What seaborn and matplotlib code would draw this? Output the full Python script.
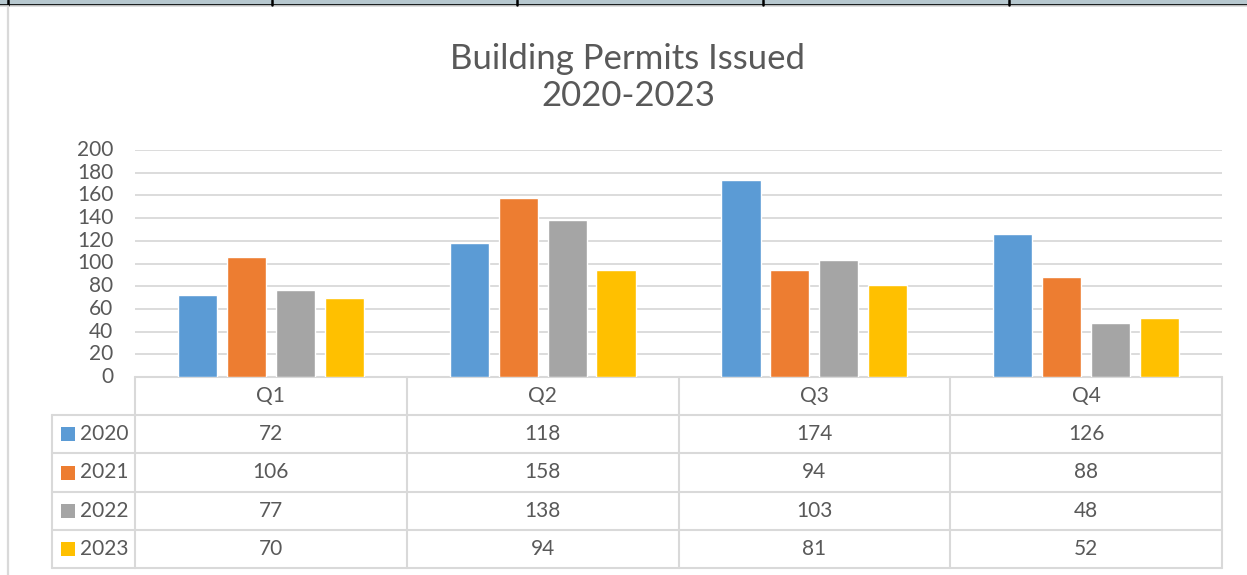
import numpy as np
import pandas as pd
import matplotlib
matplotlib.use("Agg")
import matplotlib.pyplot as plt
import matplotlib.transforms as mtransforms
from matplotlib.patches import Rectangle
import seaborn as sns

# datos
quarters = ["Q1", "Q2", "Q3", "Q4"]
years = ["2020", "2021", "2022", "2023"]
permits_2020 = [72, 118, 174, 126]
permits_2021 = [106, 158, 94, 88]
permits_2022 = [77, 138, 103, 48]
permits_2023 = [70, 94, 81, 52]
year_colors = ["#5b9bd5", "#ed7d31", "#a5a5a5", "#ffc000"]
y_ticks = list(range(0, 201, 20))

TEXT = "#595959"
LINE = "#d9d9d9"
W, H = 1247, 575


def build_frame():
    rows = []
    for year, vals in zip(years, [permits_2020, permits_2021, permits_2022, permits_2023]):
        for q, v in zip(quarters, vals):
            rows.append({"quarter": q, "year": year, "permits": v})
    return pd.DataFrame(rows)


def draw():
    df = build_frame()
    sns.set_style("white")
    plt.rcParams["font.family"] = ["Lato", "DejaVu Sans"]

    fig = plt.figure(figsize=(W / 100, H / 100), dpi=100)
    fig.patch.set_facecolor("white")

    # capa en pixeles para marco, tabla y titulo
    ov = fig.add_axes([0, 0, 1, 1], zorder=0)
    ov.set_xlim(0, W)
    ov.set_ylim(H, 0)
    ov.set_axis_off()

    # area de barras
    ax = fig.add_axes([135 / W, 1 - 377 / H, (1222 - 135) / W, (377 - 150) / H], zorder=1)
    ax.patch.set_alpha(0)
    sns.barplot(data=df, x="quarter", y="permits", hue="year", order=quarters,
                hue_order=years, palette=year_colors, width=0.72, gap=0.2,
                saturation=1, ax=ax, zorder=3)
    ax.legend_.remove()
    ax.set_xlim(-0.5, 3.5)
    ax.set_ylim(0, 200)
    ax.set_yticks(y_ticks)
    ax.set_yticklabels([str(t) for t in y_ticks])
    ax.set_xticks([])
    ax.set_xlabel("")
    ax.set_ylabel("")
    ax.tick_params(axis="y", length=0, pad=15.5, labelsize=15, labelcolor=TEXT)
    for t in ax.get_yticklabels():
        t.set_va("center")
    ax.yaxis.grid(True, color=LINE, linewidth=1.3, zorder=0)
    ax.set_axisbelow(True)
    sns.despine(ax=ax, left=True, bottom=True)

    # franja de la hoja de calculo arriba
    ov.add_patch(Rectangle((0, 0), W, 4.5, facecolor="#b7c8cf", edgecolor="none"))
    ov.plot([0, W], [4.5, 4.5], color="black", lw=1.2)
    ov.plot([0, W], [6, 6], color=LINE, lw=1.2)
    for x in [8, 272, 517, 763, 1009]:
        ov.plot([x, x], [0, 4.5], color="black", lw=1.8)
    ov.plot([8, 8], [6, H], color=LINE, lw=1.6)

    # titulo
    ov.text(628, 69, "Building Permits Issued", ha="center", va="baseline",
            fontsize=25, color=TEXT)
    ov.text(628, 106, "2020-2023", ha="center", va="baseline",
            fontsize=25, color=TEXT)

    # tabla de datos
    tr = mtransforms.blended_transform_factory(ax.transData, ov.transData)
    row_edges = [377, 415, 453, 492, 530, 568]
    tw = 1.5
    ax.plot([-0.5, 3.5], [row_edges[0]] * 2, transform=tr, color=LINE, lw=tw, clip_on=False)
    for y in row_edges[1:]:
        ov.plot([52, 135], [y, y], color=LINE, lw=tw)
        ax.plot([-0.5, 3.5], [y, y], transform=tr, color=LINE, lw=tw, clip_on=False)
    ov.plot([52, 52], [row_edges[1], row_edges[-1]], color=LINE, lw=tw)
    for i in range(len(quarters) + 1):
        ax.plot([i - 0.5, i - 0.5], [row_edges[0], row_edges[-1]], transform=tr,
                color=LINE, lw=tw, clip_on=False)

    centers = [(a + b) / 2 for a, b in zip(row_edges[:-1], row_edges[1:])]
    for i, q in enumerate(quarters):
        ax.text(i, centers[0], q, transform=tr, ha="center", va="center",
                fontsize=15, color=TEXT, clip_on=False)
    all_vals = [permits_2020, permits_2021, permits_2022, permits_2023]
    for r, (year, vals, col) in enumerate(zip(years, all_vals, year_colors)):
        cy = centers[r + 1]
        ov.add_patch(Rectangle((61, cy - 7), 14, 14, facecolor=col, edgecolor="none"))
        ov.text(80, cy, year, ha="left", va="center", fontsize=15, color=TEXT)
        for i, v in enumerate(vals):
            ax.text(i, cy, str(v), transform=tr, ha="center", va="center",
                    fontsize=15, color=TEXT, clip_on=False)

    fig.savefig("out.png", dpi=100)


if __name__ == "__main__":
    draw()
